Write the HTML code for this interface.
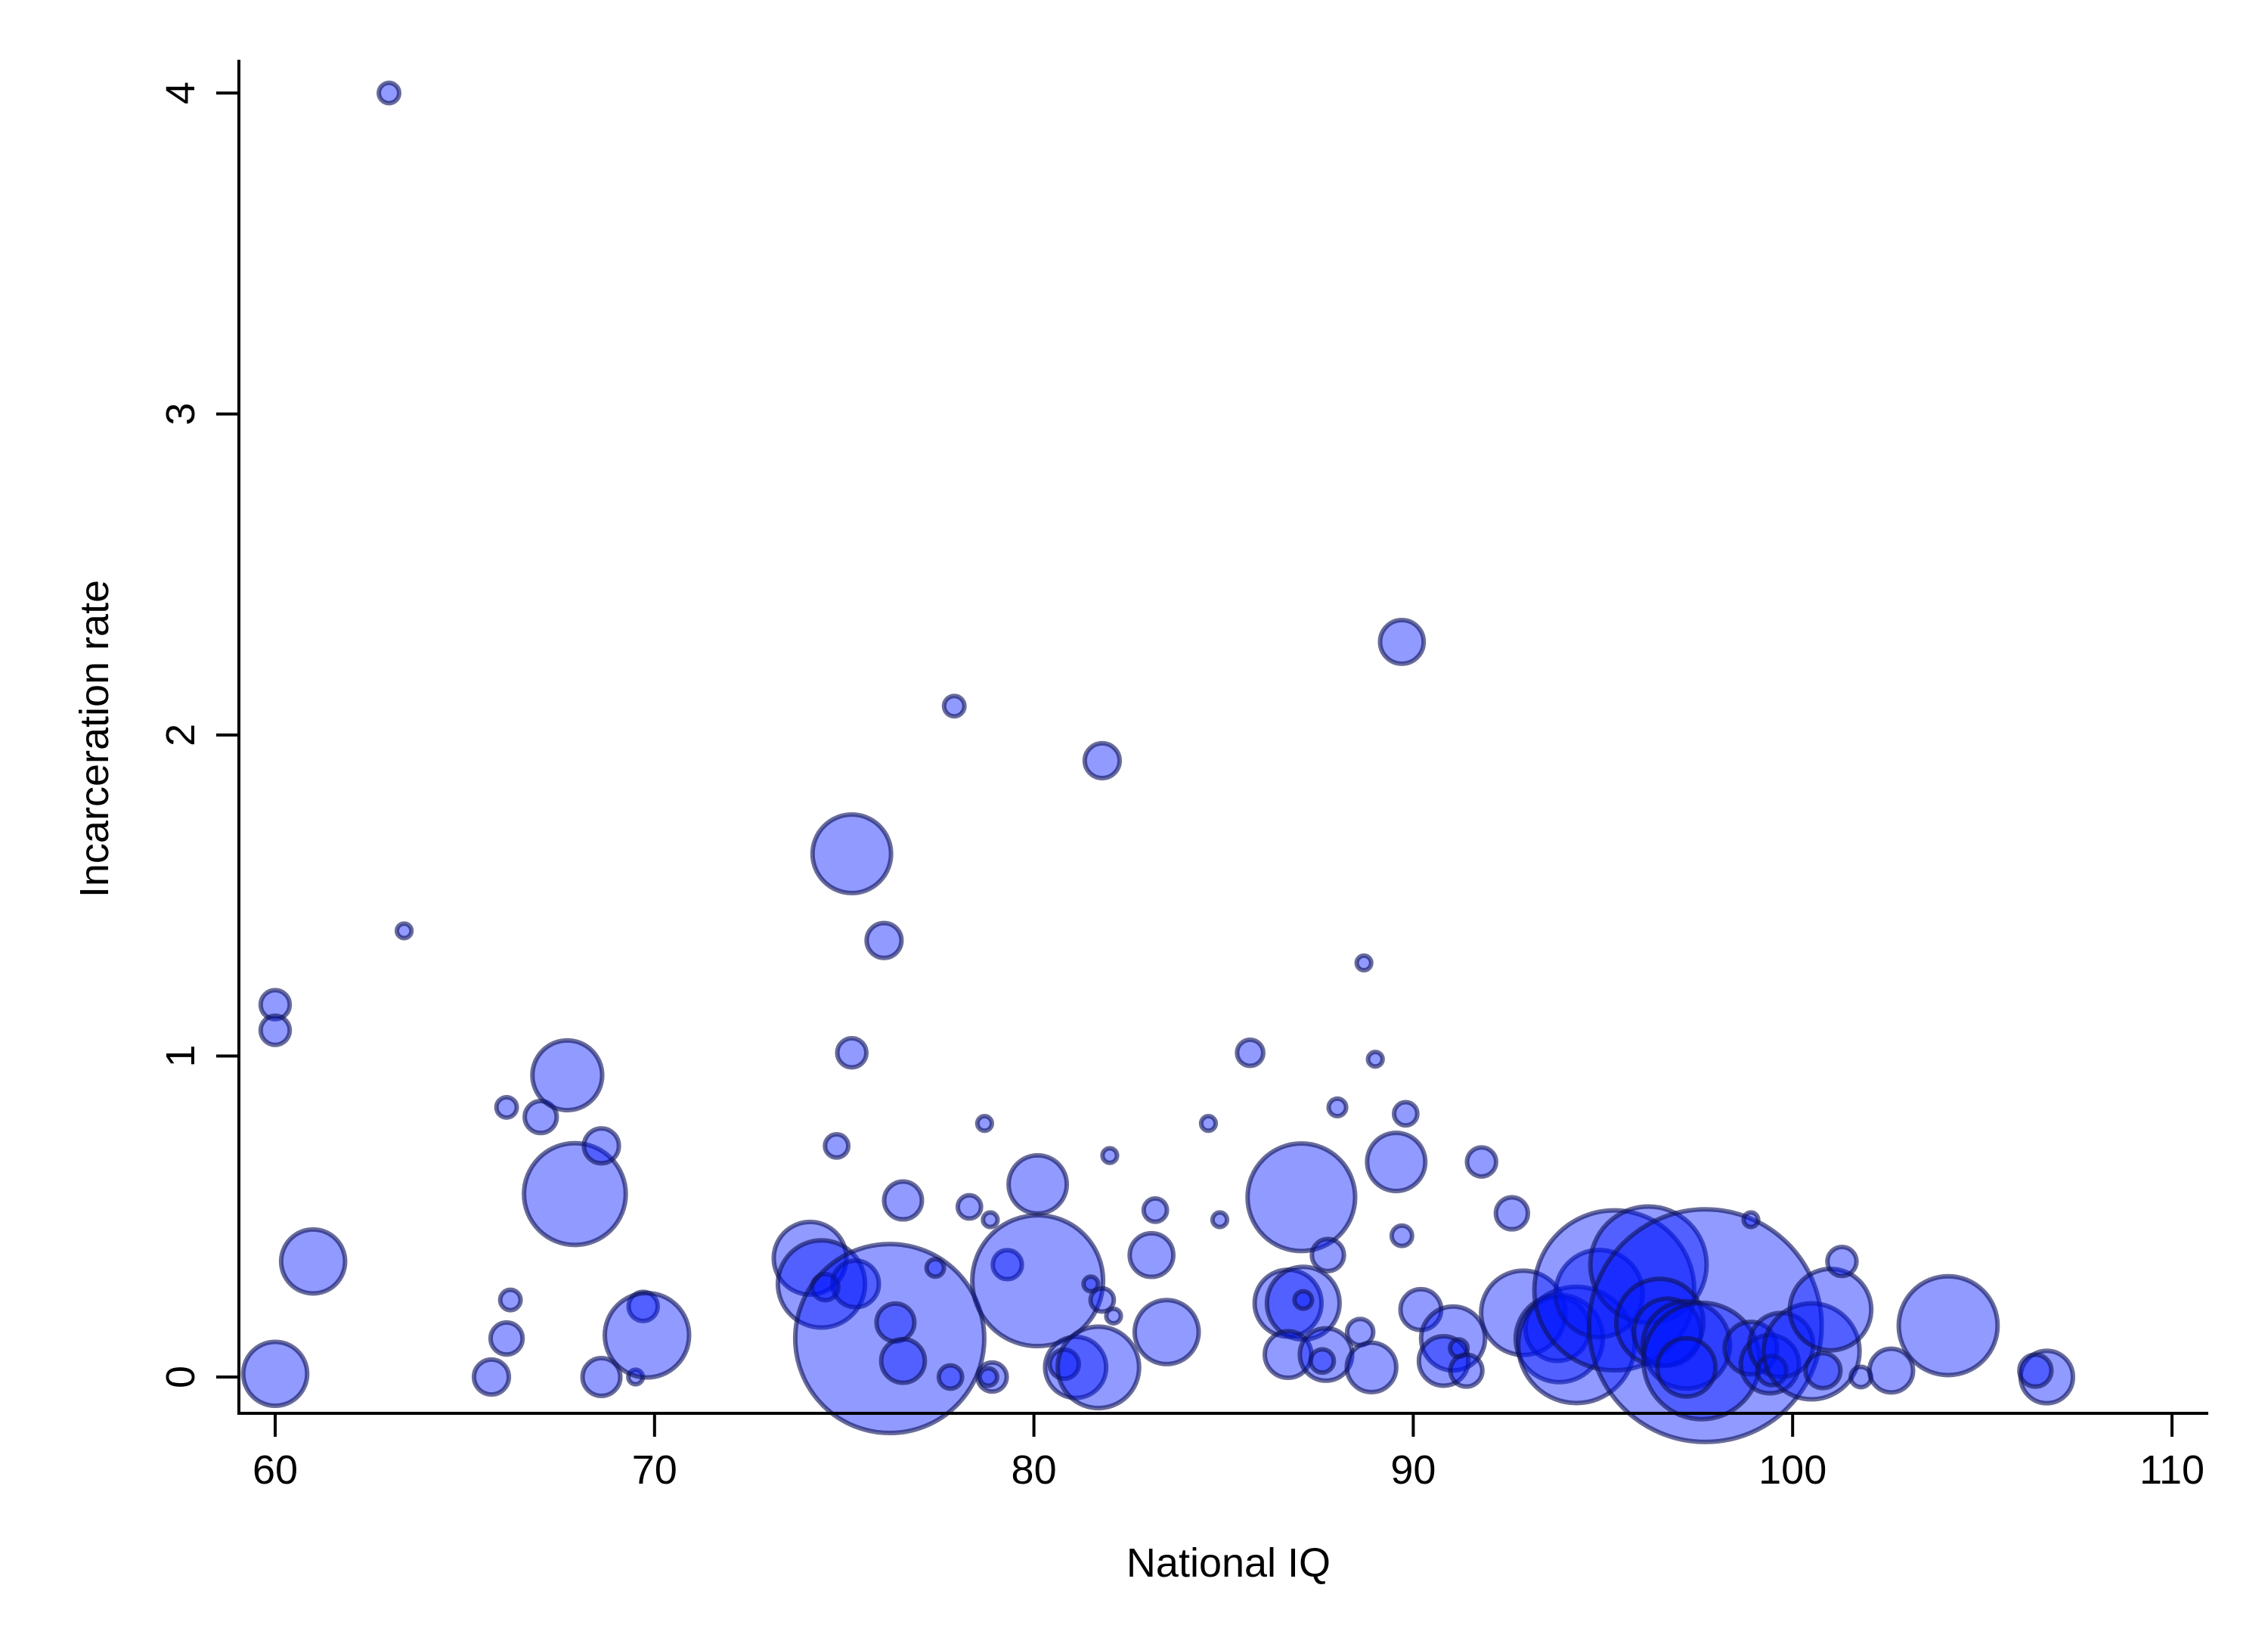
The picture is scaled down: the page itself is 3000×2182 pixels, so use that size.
<!DOCTYPE html>
<html><head><meta charset="utf-8"><style>html,body{margin:0;padding:0;background:#fff}svg{display:block}</style></head>
<body>
<svg id="chart" xmlns="http://www.w3.org/2000/svg" width="3000" height="2182" viewBox="0 0 3000 2182" font-family="Liberation Sans, Arial, sans-serif">
<g id="bubbles"></g>
<g id="axes"></g>
</svg>
<script>
const iq = [63.0,63.4,60,60,60,61,66.1,67.0,67.7,67.9,68.6,66.2,66.1,65.7,68.6,69.5,69.7,69.8,
75.2,76.05,75.2,74.8,77.9,81.8,78.7,78.85,78.3,76.55,80.1,74.1,74.4,75.3,74.5,76.2,76.35,76.55,77.4,77.8,78.9,78.8,79.3,80.1,81.5,81.8,82.1,82.0,81.1,80.8,81.7,83.2,83.1,83.5,84.6,84.9,85.7,
89.7,88.7,89.0,88.0,89.8,87.05,89.55,87.75,86.7,87.1,87.1,86.7,87.7,87.6,88.6,88.9,89.7,90.2,91.8,92.6,91.05,90.8,91.2,91.4,92.9,93.8,93.85,94.3,94.9,95.3,96.2,97.7,96.5,96.7,97.2,97.6,97.2,98.9,98.9,99.4,99.7,99.45,100.5,101.0,100.8,101.3,101.8,102.6,104.1,106.7,106.4];
const rate = [4.0,1.39,1.16,1.08,0.01,0.36,0.84,0.81,0.94,0.57,0.72,0.24,0.12,0.0,0.0,0.0,0.22,0.13,
1.63,1.36,1.01,0.72,2.09,1.92,0.79,0.49,0.53,0.55,0.60,0.37,0.29,0.29,0.28,0.12,0.17,0.05,0.34,0.0,0.0,0.0,0.35,0.30,0.29,0.24,0.19,0.69,0.03,0.04,0.03,0.52,0.38,0.14,0.79,0.49,1.01,
2.29,1.29,0.99,0.84,0.82,0.56,0.67,0.38,0.23,0.23,0.24,0.07,0.07,0.05,0.14,0.03,0.44,0.21,0.67,0.51,0.12,0.05,0.09,0.02,0.20,0.15,0.12,0.10,0.26,0.27,0.35,0.16,0.17,0.14,0.10,0.05,0.03,0.49,0.09,0.04,0.10,0.02,0.08,0.21,0.02,0.36,0.0,0.02,0.16,0.0,0.02];
const size = [49,25,100,100,484,484,49,121,576,1225,144,49,121,144,169,25,100,841,
729,144,100,64,49,144,25,25,64,169,400,625,900,256,81,4225,169,225,36,64,100,36,100,2025,25,64,25,25,441,100,784,64,225,484,25,25,81,
225,25,25,36,64,1369,400,121,529,625,36,256,324,64,81,289,49,196,100,121,484,289,36,121,841,484,900,1600,900,3025,1600,6400,900,529,900,1600,400,25,324,400,484,100,1089,784,144,100,49,225,1156,324,121];
const xTicks = [60,70,80,90,100,110];
const yTicks = [0,1,2,3,4];

const NS = "http://www.w3.org/2000/svg";
const X0 = 364, XU = 50.18, Y0 = 1821, YU = 424.5;
function xs(v){ return X0 + (v-60)*XU; }
function ys(v){ return Y0 - v*YU; }
function rs(s){ return Math.sqrt(s)*1.923; }
function mk(tag, attrs, parent){ const e=document.createElementNS(NS,tag); for(const k in attrs) e.setAttribute(k,attrs[k]); parent.appendChild(e); return e; }

const bg = document.getElementById('bubbles');
for(let i=0;i<iq.length;i++){
  const c = mk('circle',{cx:xs(iq[i]),cy:ys(rate[i]),r:rs(size[i]),fill:'rgba(0,20,255,0.43)',stroke:'rgba(15,20,90,0.62)','stroke-width':6},bg);
  
  
}

const ax = document.getElementById('axes');
const yl = mk('line',{x1:316,y1:79,x2:316,y2:1871,stroke:'#000','stroke-width':4},ax);


const xl = mk('line',{x1:314,y1:1869,x2:2921,y2:1869,stroke:'#000','stroke-width':4},ax);


xTicks.forEach(t=>{
  const l = mk('line',{x1:xs(t),y1:1869,x2:xs(t),y2:1900,stroke:'#000','stroke-width':4},ax);
  
  
  const tx = mk('text',{x:xs(t),y:1962,'font-size':54,'text-anchor':'middle',fill:'#000'},ax);
  tx.textContent = t;
  
  
});
yTicks.forEach(t=>{
  const l = mk('line',{x1:286,y1:ys(t),x2:316,y2:ys(t),stroke:'#000','stroke-width':4},ax);
  
  
  const tx = mk('text',{x:0,y:0,'font-size':54,'text-anchor':'middle',fill:'#000',transform:'translate(257,'+ys(t)+') rotate(-90)'},ax);
  tx.textContent = t;
  
  
});
const xt = mk('text',{x:1625,y:2085,'font-size':54,'text-anchor':'middle',fill:'#000'},ax);
xt.textContent = 'National IQ';


const yt = mk('text',{x:0,y:0,'font-size':54,'text-anchor':'middle',fill:'#000',transform:'translate(143,977) rotate(-90)'},ax);
yt.textContent = 'Incarceration rate';


</script>
</body></html>
